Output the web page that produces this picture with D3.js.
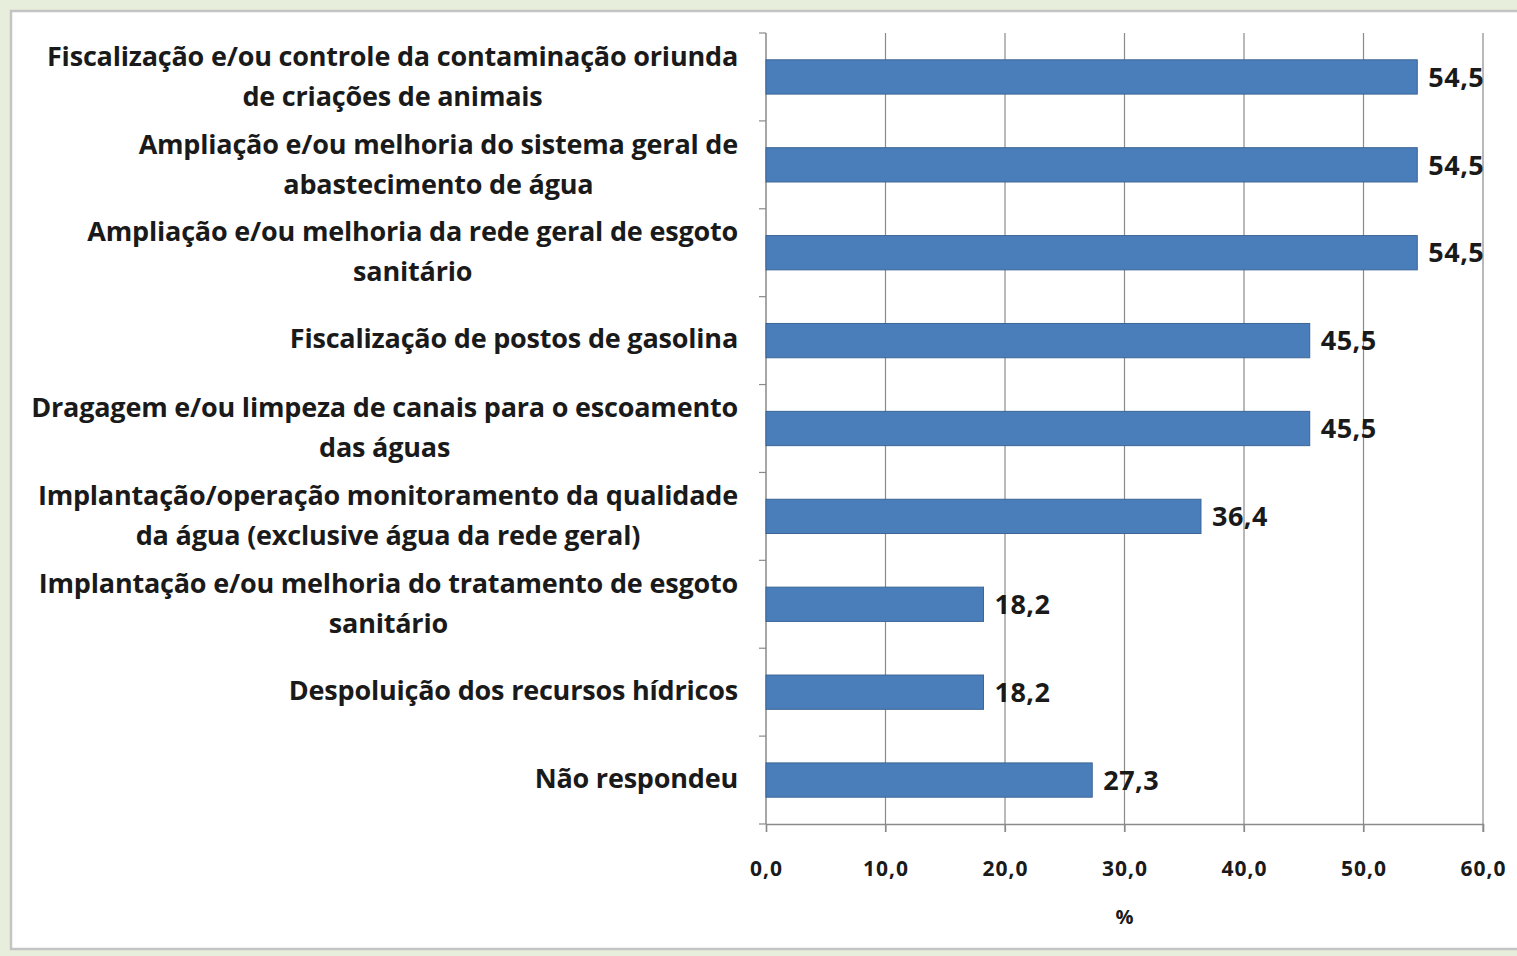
<!DOCTYPE html>
<html>
<head>
<meta charset="utf-8">
<script src="https://cdn.jsdelivr.net/npm/d3@7"></script>
<style>
body { margin: 0; background: #e7eedb; }
svg { display: block; }
text { font-family: "Open Sans", Lato, sans-serif; fill: #1a1a1a; }
</style>
</head>
<body>
<svg width="1517" height="956"></svg>
<script>
const categories = [
  ["Fiscalização e/ou controle da contaminação oriunda", "de criações de animais"],
  ["Ampliação e/ou melhoria do sistema geral de", "abastecimento de água"],
  ["Ampliação e/ou melhoria da rede geral de esgoto", "sanitário"],
  ["Fiscalização de postos de gasolina"],
  ["Dragagem e/ou limpeza de canais para o escoamento", "das águas"],
  ["Implantação/operação monitoramento da qualidade", "da água (exclusive água da rede geral)"],
  ["Implantação e/ou melhoria do tratamento de esgoto", "sanitário"],
  ["Despoluição dos recursos hídricos"],
  ["Não respondeu"]
]
const values = [54.5, 54.5, 54.5, 45.5, 45.5, 36.4, 18.2, 18.2, 27.3]
const xTicks = [0, 10, 20, 30, 40, 50, 60]
const xTitle = "%"

const fmt = v => v.toFixed(1).replace(".", ",")

const svg = d3.select("svg")

// panel
svg.append("rect")
  .attr("x", 11).attr("y", 11)
  .attr("width", 1520).attr("height", 938)
  .attr("fill", "#fff")
  .attr("stroke", "#c4c4c4")
  .attr("stroke-width", 2.5)

const margin = {top: 33, left: 766},
  width = 1483 - margin.left,
  height = 824 - margin.top

const x = d3.scaleLinear()
  .domain([0, 60])
  .range([0, width])

const y = d3.scaleBand()
  .domain(d3.range(categories.length))
  .range([0, height])
  .paddingInner(0.61)
  .paddingOuter(0.305)

const g = svg.append("g")
  .attr("transform", `translate(${margin.left}, ${margin.top})`)

// gridlines
g.selectAll(".grid")
  .data(xTicks.slice(1))
  .enter()
  .append("line")
  .attr("x1", d => x(d)).attr("x2", d => x(d))
  .attr("y1", 0).attr("y2", height + 8)
  .attr("stroke", "#8a8a8a")
  .attr("stroke-width", 1.2)

// x axis
const xAxis = g.append("g")
  .attr("transform", `translate(0, ${height})`)
  .call(d3.axisBottom(x).tickValues(xTicks).tickSize(8).tickFormat(fmt))
xAxis.select(".domain").attr("stroke", "#8a8a8a").attr("stroke-width", 1.5)
xAxis.selectAll(".tick line").attr("stroke", "#8a8a8a").attr("stroke-width", 1.2)
xAxis.selectAll(".tick text")
  .attr("y", 37)
  .attr("font-size", 21)
  .attr("font-weight", "bold")
  .attr("letter-spacing", 1)
  .attr("font-family", "'Open Sans', sans-serif")
  .attr("fill", "#1a1a1a")

g.append("text")
  .attr("x", x(30))
  .attr("y", height + 100)
  .attr("text-anchor", "middle")
  .attr("font-size", 20)
  .attr("font-weight", "bold")
  .text(xTitle)

// y axis line with category separators
g.append("line")
  .attr("x1", 0).attr("x2", 0)
  .attr("y1", 0).attr("y2", height)
  .attr("stroke", "#8a8a8a")
  .attr("stroke-width", 1.5)

g.selectAll(".ytick")
  .data(d3.range(categories.length + 1))
  .enter()
  .append("line")
  .attr("x1", -7).attr("x2", 0)
  .attr("y1", d => d * height / categories.length)
  .attr("y2", d => d * height / categories.length)
  .attr("stroke", "#8a8a8a")
  .attr("stroke-width", 1.2)

// bars
g.selectAll(".bar")
  .data(values)
  .enter()
  .append("rect")
  .attr("x", 0)
  .attr("y", (d, i) => y(i))
  .attr("width", d => x(d))
  .attr("height", y.bandwidth())
  .attr("fill", "#4a7ebb")
  .attr("stroke", "#3b6596")
  .attr("stroke-width", 1)

// value labels
g.selectAll(".val")
  .data(values)
  .enter()
  .append("text")
  .attr("x", d => x(d) + 11)
  .attr("y", (d, i) => y(i) + y.bandwidth() / 2)
  .attr("dy", "0.36em")
  .attr("font-size", 27)
  .attr("font-weight", "bold")
  .attr("letter-spacing", 0.5)
  .text(fmt)

// category labels
const lab = g.selectAll(".lab")
  .data(categories)
  .enter()
  .append("text")
  .attr("text-anchor", "end")
  .attr("font-size", 27)
  .attr("font-weight", "bold")
  .attr("letter-spacing", -0.2)
  .attr("transform", (d, i) => `translate(-28, ${y(i) + y.bandwidth() / 2})`)

lab.selectAll("tspan")
  .data(d => d)
  .enter()
  .append("tspan")
  .attr("x", 0)
  .attr("y", (d, j, n) => n.length === 1 ? -2 : (j === 0 ? -21 : 19))
  .attr("dy", "0.36em")
  .text(d => d)

// second lines are centred under the first one
lab.each(function() {
  const spans = d3.select(this).selectAll("tspan").nodes()
  if (spans.length === 2) {
    const w0 = spans[0].getComputedTextLength()
    const w1 = spans[1].getComputedTextLength()
    d3.select(spans[1]).attr("x", -(w0 - w1) / 2)
  }
})
</script>
</body>
</html>
